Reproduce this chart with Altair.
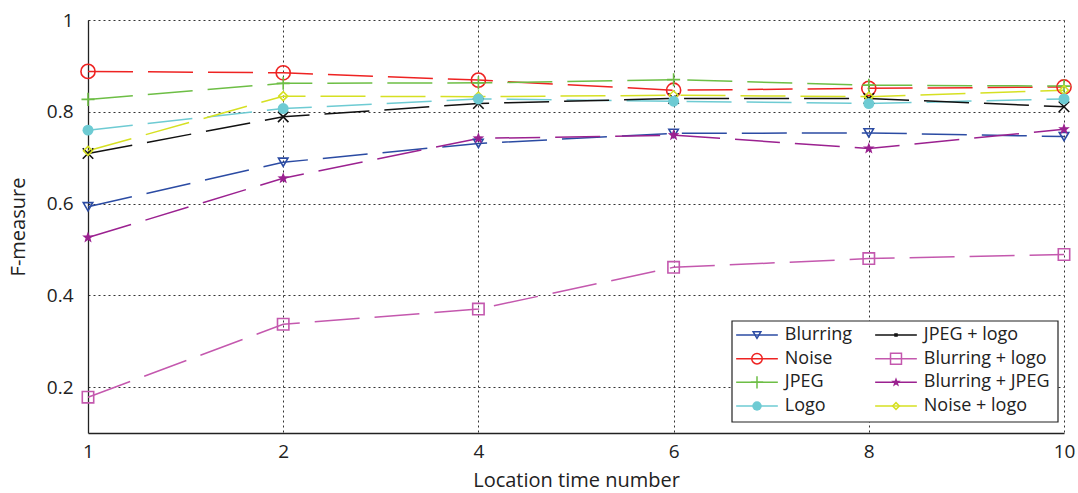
import math
import altair as alt
import pandas as pd

# ---- data ----
x_labels = ["1", "2", "4", "6", "8", "10"]
series = ["Blurring", "Noise", "JPEG", "Logo",
          "JPEG + logo", "Blurring + logo", "Blurring + JPEG", "Noise + logo"]

blurring = [0.593, 0.690, 0.731, 0.753, 0.754, 0.746]
noise = [0.888, 0.885, 0.869, 0.847, 0.851, 0.854]
jpeg = [0.827, 0.862, 0.863, 0.870, 0.858, 0.856]
logo = [0.760, 0.807, 0.828, 0.823, 0.818, 0.828]
jpeg_logo = [0.709, 0.789, 0.818, 0.829, 0.829, 0.811]
blurring_logo = [0.178, 0.337, 0.370, 0.461, 0.480, 0.489]
blurring_jpeg = [0.526, 0.655, 0.742, 0.749, 0.720, 0.762]
noise_logo = [0.715, 0.834, 0.833, 0.836, 0.833, 0.847]

values = [blurring, noise, jpeg, logo, jpeg_logo, blurring_logo, blurring_jpeg, noise_logo]

# ---- styles ----
colors = ["#2B4BA3", "#EE2322", "#6DBE45", "#6ECBD3",
          "#111111", "#C458AE", "#9B2190", "#D6E022"]

star_pts = []
for k in range(10):
    r = 1.0 if k % 2 == 0 else 0.42
    a = math.radians(-90 + 36 * k)
    star_pts.append(f"{r*math.cos(a):.3f},{r*math.sin(a):.3f}")
star_path = "M" + "L".join(star_pts) + "Z"

plus_path = "M-1,0H1M0,-1V1"
x_path = "M-1,-1L1,1M-1,1L1,-1"
shapes = ["triangle-down", "circle", plus_path, "circle",
          x_path, "square", star_path, "diamond"]
legend_shapes = ["triangle-down", "circle", plus_path, "circle",
                 "square", "square", star_path, "diamond"]
marker_size = dict(zip(series, [90, 200, 170, 120, 110, 130, 150, 80]))
legend_marker_size = dict(zip(series, [60, 110, 150, 90, 4, 120, 100, 45]))
filled_series = ["Logo", "Blurring + JPEG"]
open_series = [s for s in series if s not in filled_series]

rows = []
for s, vals in zip(series, values):
    for xl, v in zip(x_labels, vals):
        rows.append({"series": s, "x": xl, "value": v})
df = pd.DataFrame(rows)
df["msize"] = df["series"].map(marker_size)

leg_df = pd.DataFrame({"series": series,
                       "col": [i // 4 for i in range(len(series))],
                       "row": [i % 4 for i in range(len(series))]})
leg_df["msize"] = leg_df["series"].map(legend_marker_size)

FONT = "Open Sans"
color_scale = alt.Scale(domain=series, range=colors)
color_enc = alt.Color("series:N", scale=color_scale, legend=None)
size_enc = alt.Size("msize:Q", scale=None, legend=None)

x_enc = alt.X("x:O", sort=x_labels,
              scale=alt.Scale(type="point", padding=0),
              axis=alt.Axis(title="Location time number", labelAngle=0,
                            grid=True, ticks=False, labelPadding=9,
                            titlePadding=9))
y_enc = alt.Y("value:Q",
              scale=alt.Scale(domain=[0.1, 1.0], nice=False, zero=False),
              axis=alt.Axis(title="F-measure", values=[0.2, 0.4, 0.6, 0.8, 1.0],
                            labelExpr="datum.value == 1 ? '1' : format(datum.value, '.1f')",
                            grid=True, ticks=False, labelPadding=15,
                            titlePadding=18))

base = alt.Chart(df)
lines = base.mark_line(strokeWidth=1.5, strokeDash=[45, 15]).encode(
    x=x_enc, y=y_enc, color=color_enc, detail="series:N",
)
shape_enc = alt.Shape("series:N", scale=alt.Scale(domain=series, range=shapes), legend=None)
pts_open = base.transform_filter(
    alt.FieldOneOfPredicate(field="series", oneOf=open_series)
).mark_point(filled=False, strokeWidth=1.6, opacity=1).encode(
    x=x_enc, y=y_enc, color=color_enc, shape=shape_enc, size=size_enc)
pts_filled = base.transform_filter(
    alt.FieldOneOfPredicate(field="series", oneOf=filled_series)
).mark_point(filled=True, opacity=1).encode(
    x=x_enc, y=y_enc, color=color_enc, shape=shape_enc, size=size_enc)
main = alt.layer(lines, pts_open, pts_filled)

# ---- legend (built from the series list) ----
lx = alt.Scale(domain=[0, 1], range=[669, 808])
ly = alt.Scale(domain=[0, 3], range=[315, 386])
lshape = alt.Shape("series:N", scale=alt.Scale(domain=series, range=legend_shapes), legend=None)
leg_base = alt.Chart(leg_df).transform_calculate(
    xa="datum.col - 0.15", xb="datum.col + 0.15", xt="datum.col + 0.2")

box = alt.Chart(pd.DataFrame({"a": [0]})).mark_rect(
    fill="white", stroke="#222", strokeWidth=1.2).encode(
    x=alt.value(644), x2=alt.value(970), y=alt.value(301), y2=alt.value(402))
leg_rule = leg_base.mark_rule(strokeWidth=1.5).encode(
    x=alt.X("xa:Q", scale=lx, axis=None), x2="xb:Q",
    y=alt.Y("row:Q", scale=ly, axis=None), color=color_enc)
leg_open = leg_base.transform_filter(
    alt.FieldOneOfPredicate(field="series", oneOf=open_series)
).mark_point(filled=False, strokeWidth=1.5, opacity=1).encode(
    x=alt.X("col:Q", scale=lx, axis=None),
    y=alt.Y("row:Q", scale=ly, axis=None),
    color=color_enc, shape=lshape, size=size_enc)
leg_filled = leg_base.transform_filter(
    alt.FieldOneOfPredicate(field="series", oneOf=filled_series)
).mark_point(filled=True, opacity=1).encode(
    x=alt.X("col:Q", scale=lx, axis=None),
    y=alt.Y("row:Q", scale=ly, axis=None),
    color=color_enc, shape=lshape, size=size_enc)
leg_text = leg_base.mark_text(align="left", baseline="middle", fontSize=18,
                              font=FONT, color="#222").encode(
    x=alt.X("xt:Q", scale=lx, axis=None),
    y=alt.Y("row:Q", scale=ly, axis=None),
    text="series:N")
legend = alt.layer(box, leg_rule, leg_open, leg_filled, leg_text)

chart = alt.layer(main, legend).resolve_scale(
    x="independent", y="independent", shape="independent"
).properties(
    width=1078, height=493,
    autosize=alt.AutoSizeParams(type="fit", contains="padding"),
    padding={"left": 8, "top": 11, "right": 3, "bottom": 3},
).configure_view(stroke=None).configure_axis(
    labelFont=FONT, titleFont=FONT, labelFontSize=19, titleFontSize=20,
    titleFontWeight="normal", labelColor="#222", titleColor="#222",
    domainColor="#222", domainWidth=1.3,
    gridColor="#333", gridDash=[2, 3], gridWidth=1, gridOpacity=1,
)

chart.save("out.html", embed_options={"renderer": "svg", "actions": False})
